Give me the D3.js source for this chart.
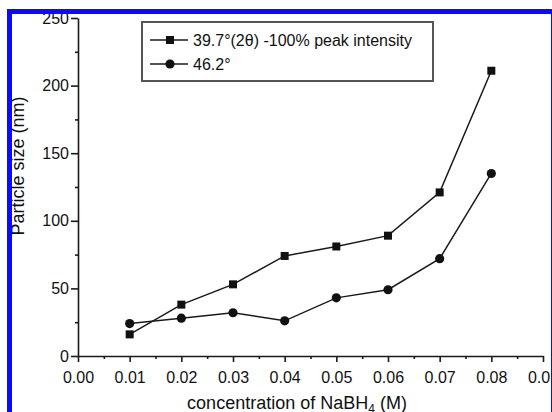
<!DOCTYPE html>
<html>
<head>
<meta charset="utf-8">
<script src="https://cdn.jsdelivr.net/npm/d3@7"></script>
<style>
  body { margin: 0; background: #fff; }
  svg { display: block; font-family: "Liberation Sans", Arial, Helvetica, sans-serif; }
</style>
</head>
<body>
<div id="chart"></div>
<script>
const SVG_WIDTH = 552;
const SVG_HEIGHT = 412;
const PLOT = { left: 78, right: 543, top: 18, bottom: 356 };

// data
const concentration = [0.01, 0.02, 0.03, 0.04, 0.05, 0.06, 0.07, 0.08];
const size397 = [16, 38, 53, 74, 81, 89, 121, 211];
const size462 = [24, 28, 32, 26, 43, 49, 72, 135];
const xTicks = [0, 0.01, 0.02, 0.03, 0.04, 0.05, 0.06, 0.07, 0.08, 0.09];
const yTicks = [0, 50, 100, 150, 200, 250];
const seriesNames = ["39.7\u00B0(2\u03B8) -100% peak intensity", "46.2\u00B0"];

const svg = d3.select("#chart")
    .append("svg")
    .attr("width", SVG_WIDTH)
    .attr("height", SVG_HEIGHT);

svg.append("rect")
    .attr("width", SVG_WIDTH)
    .attr("height", SVG_HEIGHT)
    .attr("fill", "#fff");

const xScale = d3.scaleLinear().domain([0, 0.09]).range([PLOT.left, PLOT.right]);
const yScale = d3.scaleLinear().domain([0, 250]).range([PLOT.bottom, PLOT.top]);

const xMinor = xTicks.slice(0, -1).map(d => d + 0.005);
const yMinor = yTicks.slice(0, -1).map(d => d + 25);

// x axis
svg.append("g")
    .attr("transform", `translate(0,${PLOT.bottom})`)
    .call(d3.axisBottom(xScale).tickValues(xTicks).tickFormat(d3.format(".2f"))
        .tickSizeInner(6).tickSizeOuter(0).tickPadding(10));
svg.append("g")
    .attr("transform", `translate(0,${PLOT.bottom})`)
    .call(d3.axisBottom(xScale).tickValues(xMinor).tickFormat("").tickSize(3))
    .call(g => g.select(".domain").remove());

// y axis
svg.append("g")
    .attr("transform", `translate(${PLOT.left},0)`)
    .call(d3.axisLeft(yScale).tickValues(yTicks).tickSizeInner(7).tickSizeOuter(0).tickPadding(2));
svg.append("g")
    .attr("transform", `translate(${PLOT.left},0)`)
    .call(d3.axisLeft(yScale).tickValues(yMinor).tickFormat("").tickSize(3))
    .call(g => g.select(".domain").remove());

svg.selectAll(".domain, .tick line")
    .attr("stroke", "#1a1a1a")
    .attr("stroke-width", 1.6);
svg.selectAll(".tick text")
    .attr("fill", "#111")
    .style("font-size", "16px");

// axis titles
svg.append("text")
    .attr("transform", "translate(24,166) rotate(-90)")
    .attr("text-anchor", "middle")
    .attr("fill", "#111")
    .style("font-size", "18px")
    .text("Particle size (nm)");

const xLabel = svg.append("text")
    .attr("x", 297)
    .attr("y", 409)
    .attr("text-anchor", "middle")
    .attr("fill", "#111")
    .style("font-size", "18px");
xLabel.append("tspan").text("concentration of NaBH");
xLabel.append("tspan").attr("dy", 4).style("font-size", "12px").text("4");
xLabel.append("tspan").attr("dy", -4).text(" (M)");

// series
const line = d3.line()
    .x(d => xScale(d[0]))
    .y(d => yScale(d[1]));

const seriesA = concentration.map((c, i) => [c, size397[i]]);
const seriesB = concentration.map((c, i) => [c, size462[i]]);

[seriesA, seriesB].forEach(s => {
    svg.append("path")
        .datum(s)
        .attr("fill", "none")
        .attr("stroke", "#1a1a1a")
        .attr("stroke-width", 1.5)
        .attr("d", line);
});

svg.append("g")
    .selectAll("rect")
    .data(seriesA)
    .join("rect")
    .attr("x", d => xScale(d[0]) - 4)
    .attr("y", d => yScale(d[1]) - 4)
    .attr("width", 8)
    .attr("height", 8)
    .attr("fill", "#111");

svg.append("g")
    .selectAll("circle")
    .data(seriesB)
    .join("circle")
    .attr("cx", d => xScale(d[0]))
    .attr("cy", d => yScale(d[1]))
    .attr("r", 4.6)
    .attr("fill", "#111");

// legend
const legend = svg.append("g");
legend.append("rect")
    .attr("x", 142)
    .attr("y", 22)
    .attr("width", 291)
    .attr("height", 59)
    .attr("fill", "#fff")
    .attr("stroke", "#555")
    .attr("stroke-width", 2);

seriesNames.forEach((name, i) => {
    const cy = 40 + i * 24;
    legend.append("line")
        .attr("x1", 150).attr("x2", 188)
        .attr("y1", cy).attr("y2", cy)
        .attr("stroke", "#1a1a1a")
        .attr("stroke-width", 1.5);
    if (i === 0) {
        legend.append("rect")
            .attr("x", 166).attr("y", cy - 4)
            .attr("width", 8).attr("height", 8)
            .attr("fill", "#111");
    } else {
        legend.append("circle")
            .attr("cx", 170).attr("cy", cy)
            .attr("r", 4.6)
            .attr("fill", "#111");
    }
    legend.append("text")
        .attr("x", 193)
        .attr("y", cy + 6)
        .attr("fill", "#111")
        .style("font-size", "16px")
        .text(name);
});

// blue frame of the cropped figure
svg.append("rect")
    .attr("x", 9.5)
    .attr("y", 11.5)
    .attr("width", 544)
    .attr("height", 420)
    .attr("fill", "none")
    .attr("stroke", "#0a0aff")
    .attr("stroke-width", 5);
</script>
</body>
</html>
